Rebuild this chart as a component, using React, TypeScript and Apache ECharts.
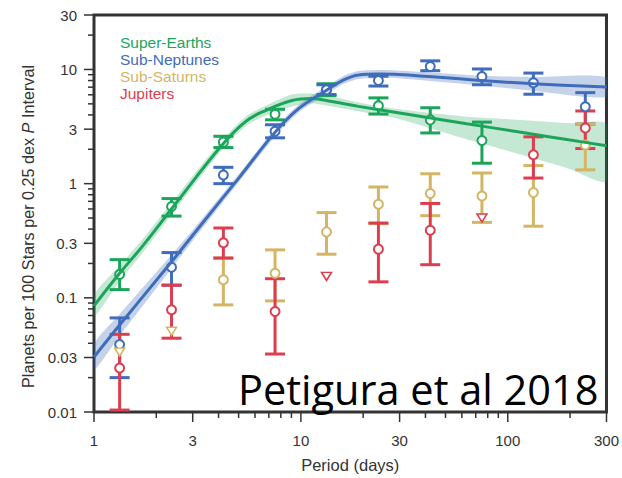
import React, { useEffect, useRef } from "react";
import * as echarts from "echarts";

// ---------- data ----------
const binPeriods = [1.33, 2.37, 4.22, 7.5, 13.3, 23.7, 42.2, 75, 133, 237];

const superEarthVal = [0.16, 0.63, 2.31, 4.05, 6.6, 4.82, 3.62, 2.39, null, null];
const superEarthLo = [0.118, 0.52, 2.07, 3.62, 5.9, 4.07, 2.78, 1.51, null, null];
const superEarthHi = [0.216, 0.74, 2.6, 4.48, 7.5, 5.64, 4.62, 3.46, null, null];

const subNeptuneVal = [0.039, 0.185, 1.19, 2.88, 6.65, 8.0, 10.6, 8.66, 7.64, 4.72];
const subNeptuneLo = [0.02, 0.129, 1.0, 2.52, 6.03, 7.16, 9.76, 7.35, 6.07, 3.33];
const subNeptuneHi = [0.0667, 0.249, 1.39, 3.28, 7.35, 8.73, 11.9, 10.1, 9.3, 6.27];

const subSaturnVal = [null, null, 0.144, 0.164, 0.378, 0.66, 0.82, 0.78, 0.835, 2.18];
const subSaturnLo = [null, null, 0.0867, 0.094, 0.241, 0.447, 0.524, 0.458, 0.424, 1.32];
const subSaturnHi = [null, null, 0.223, 0.263, 0.558, 0.935, 1.22, 1.24, 1.44, 3.33];
const subSaturnUpper = [0.0335, 0.051, null, null, null, null, null, null, null, null];

const jupiterVal = [0.0243, 0.0786, 0.304, 0.0759, null, 0.267, 0.391, null, 1.79, 3.07];
const jupiterLo = [0.0104, 0.0443, 0.223, 0.0322, null, 0.138, 0.195, null, 1.12, 2.03];
const jupiterHi = [0.0479, 0.129, 0.409, 0.147, null, 0.452, 0.671, null, 2.57, 4.33];
const jupiterUpper = [null, null, null, null, 0.154, null, null, 0.5, null, null];

// fitted occurrence curves with confidence bands
const superEarthFitP = [1, 1.33, 1.72, 2.5, 4.17, 5.44, 6.79, 9.05, 11.3, 14.1, 19, 30, 60, 120, 200, 300];
const superEarthFit = [0.0851, 0.164, 0.285, 0.681, 2.19, 3.53, 4.39, 5.35, 5.57, 5.24, 4.75, 4.15, 3.4, 2.79, 2.41, 2.15];
const superEarthFitHi = [0.106, 0.192, 0.327, 0.767, 2.42, 3.9, 4.84, 6.03, 6.15, 5.79, 5.14, 4.48, 3.9, 3.6, 3.39, 3.32];
const superEarthFitLo = [0.0684, 0.14, 0.248, 0.605, 1.99, 3.2, 3.97, 4.75, 5.04, 4.75, 4.3, 3.67, 2.52, 1.76, 1.34, 1.05];

const subNeptuneFitP = [1, 1.33, 2.37, 3.34, 5.03, 7.6, 9.78, 13.2, 16.1, 19, 23.7, 29.5, 74, 133, 300];
const subNeptuneFit = [0.0303, 0.0578, 0.207, 0.45, 1.13, 2.9, 4.56, 6.52, 8.11, 8.96, 9.13, 9.05, 8.0, 7.49, 7.02];
const subNeptuneFitHi = [0.0393, 0.0719, 0.238, 0.496, 1.22, 3.13, 4.94, 7.06, 8.78, 9.69, 9.89, 9.79, 8.83, 8.61, 8.56];
const subNeptuneFitLo = [0.0234, 0.0465, 0.181, 0.407, 1.04, 2.67, 4.22, 6.03, 7.49, 8.27, 8.44, 8.36, 7.24, 6.52, 5.75];

// axes
const xMajorTicks = [1, 3, 10, 30, 100, 300];
const xMajorLabels = ["1", "3", "10", "30", "100", "300"];
const xMinorTicks = [2, 4, 5, 6, 7, 8, 9, 20, 40, 50, 60, 70, 80, 90, 200];
const yMajorTicks = [0.01, 0.03, 0.1, 0.3, 1, 3, 10, 30];
const yMajorLabels = ["0.01", "0.03", "0.1", "0.3", "1", "3", "10", "30"];
const yMinorTicks = [
  0.02, 0.04, 0.05, 0.06, 0.07, 0.08, 0.09,
  0.2, 0.4, 0.5, 0.6, 0.7, 0.8, 0.9,
  2, 4, 5, 6, 7, 8, 9, 20,
];

const groupNames = ["Super-Earths", "Sub-Neptunes", "Sub-Saturns", "Jupiters"];
const groupColors = ["#1ca55a", "#3f6cbb", "#d4b564", "#dc3d4f"];

// ---------- helpers ----------
const L = (v: number) => Math.log10(v);
const FONT = "Liberation Sans, Arial, Helvetica, sans-serif";
const X_MIN = L(1);
const X_MAX = L(300);
const Y_MIN = L(0.01);
const Y_MAX = L(30);
const TICK_COLOR = "#333";

const labelFormatter = (ticks: number[], labels: string[]) => (v: number) => {
  let best = 0;
  ticks.forEach((t, i) => {
    if (Math.abs(L(t) - v) < Math.abs(L(ticks[best]) - v)) best = i;
  });
  return labels[best];
};

function points(vals: (number | null)[]) {
  const out: number[][] = [];
  binPeriods.forEach((p, i) => {
    const v = vals[i];
    if (v != null) out.push([L(p), L(v)]);
  });
  return out;
}
function bars(lo: (number | null)[], hi: (number | null)[]) {
  const out: number[][] = [];
  binPeriods.forEach((p, i) => {
    const a = lo[i];
    const b = hi[i];
    if (a != null && b != null) out.push([L(p), L(a), L(b)]);
  });
  return out;
}

function errorBarSeries(lo: (number | null)[], hi: (number | null)[], color: string) {
  return {
    type: "custom",
    data: bars(lo, hi),
    encode: { x: 0, y: [1, 2] },
    renderItem: (_params: any, api: any) => {
      const x = api.value(0);
      const a = api.coord([x, api.value(1)]);
      const b = api.coord([x, api.value(2)]);
      const w = 10;
      const st = { stroke: color, lineWidth: 3 };
      return {
        type: "group",
        children: [
          { type: "line", shape: { x1: a[0], y1: a[1], x2: b[0], y2: b[1] }, style: st },
          { type: "line", shape: { x1: a[0] - w, y1: a[1], x2: a[0] + w, y2: a[1] }, style: st },
          { type: "line", shape: { x1: b[0] - w, y1: b[1], x2: b[0] + w, y2: b[1] }, style: st },
        ],
      };
    },
  };
}

function pointSeries(name: string, vals: (number | null)[], color: string) {
  return {
    name,
    type: "scatter",
    data: points(vals),
    symbol: "circle",
    symbolSize: 9,
    itemStyle: { color: "#fff", borderColor: color, borderWidth: 2, opacity: 1 },
  };
}

function limitSeries(name: string, vals: (number | null)[], color: string) {
  return {
    name,
    type: "scatter",
    data: points(vals),
    symbol: "triangle",
    symbolRotate: 180,
    symbolSize: [10, 8],
    itemStyle: { color: "#fff", borderColor: color, borderWidth: 1.5, opacity: 1 },
  };
}

function bandSeries(ps: number[], lo: number[], hi: number[], color: string) {
  const data = ps.map((p, i) => [L(p), L(lo[i]), L(hi[i])]);
  return {
    type: "custom",
    data,
    encode: { x: 0, y: [1, 2] },
    clip: true,
    silent: true,
    renderItem: (params: any, api: any) => {
      if (params.dataIndex !== 0) return null;
      const upper = data.map((d) => api.coord([d[0], d[2]]));
      const lower = data.map((d) => api.coord([d[0], d[1]])).reverse();
      return {
        type: "polygon",
        shape: { points: upper.concat(lower), smooth: 0.25 },
        style: { fill: color },
      };
    },
  };
}

function fitSeries(ps: number[], vals: number[], color: string) {
  return {
    type: "line",
    data: ps.map((p, i) => [L(p), L(vals[i])]),
    smooth: 0.4,
    showSymbol: false,
    symbol: "none",
    lineStyle: { color, width: 3 },
    silent: true,
  };
}

function baseGraphics() {
  return [
    ...groupNames.map((n, i) => ({
      type: "text",
      id: "legend" + i,
      x: 120,
      y: 42 + i * 17,
      style: {
        text: n,
        fill: groupColors[i],
        font: `15.5px ${FONT}`,
        verticalAlign: "middle",
        align: "left",
      },
    })),
    {
      type: "text",
      id: "credit",
      x: 238,
      y: 389,
      style: {
        text: "Petigura et al 2018",
        fill: "#000",
        font: `41.5px "Open Sans", sans-serif`,
        verticalAlign: "middle",
        align: "left",
      },
      z: 100,
    },
  ];
}

// log-axis ticks (major and minor), placed with the chart's own axis scales
function tickGraphics(chart: any) {
  const out: any[] = [];
  const addX = (vals: number[], len: number, tag: string) =>
    vals.forEach((v, i) => {
      const c = chart.convertToPixel({ gridIndex: 0 }, [L(v), Y_MIN]);
      if (!c) return;
      out.push({
        type: "line",
        id: tag + i,
        shape: { x1: c[0], y1: c[1] + 1, x2: c[0], y2: c[1] + len },
        style: { stroke: TICK_COLOR, lineWidth: 1.5 },
        z: 50,
      });
    });
  const addY = (vals: number[], len: number, tag: string) =>
    vals.forEach((v, i) => {
      const c = chart.convertToPixel({ gridIndex: 0 }, [X_MIN, L(v)]);
      if (!c) return;
      out.push({
        type: "line",
        id: tag + i,
        shape: { x1: c[0] - len, y1: c[1], x2: c[0] - 1, y2: c[1] },
        style: { stroke: TICK_COLOR, lineWidth: 1.5 },
        z: 50,
      });
    });
  addX(xMajorTicks, 10, "xM");
  addX(xMinorTicks, 6, "xm");
  addY(yMajorTicks, 10, "yM");
  addY(yMinorTicks, 6, "ym");
  return out;
}

function buildOption() {
  return {
    animation: false,
    grid: {
      left: 94,
      right: 13,
      top: 15,
      bottom: 59,
      show: true,
      borderColor: "#333",
      borderWidth: 3,
      backgroundColor: "transparent",
    },
    xAxis: {
      type: "value",
      min: X_MIN,
      max: X_MAX,
      position: "bottom",
      axisLine: { show: false, onZero: false },
      splitLine: { show: false },
      axisTick: { show: false },
      axisLabel: {
        customValues: xMajorTicks.map(L),
        formatter: labelFormatter(xMajorTicks, xMajorLabels),
        margin: 21,
        fontSize: 15,
        fontFamily: FONT,
        color: "#333",
      },
      name: "Period (days)",
      nameLocation: "middle",
      nameGap: 44,
      nameTextStyle: { fontSize: 16.5, fontFamily: FONT, color: "#333" },
    },
    yAxis: {
      type: "value",
      min: Y_MIN,
      max: Y_MAX,
      position: "left",
      axisLine: { show: false, onZero: false },
      splitLine: { show: false },
      axisTick: { show: false },
      axisLabel: {
        customValues: yMajorTicks.map(L),
        formatter: labelFormatter(yMajorTicks, yMajorLabels),
        margin: 17,
        fontSize: 15,
        fontFamily: FONT,
        color: "#333",
      },
      name: "Planets per 100 Stars per 0.25 dex {it|P} Interval",
      nameLocation: "middle",
      nameGap: 58,
      nameTextStyle: {
        fontSize: 16.2,
        fontFamily: FONT,
        color: "#333",
        padding: [0, 26, 0, 0],
        rich: {
          it: { fontStyle: "italic", fontSize: 16.2, fontFamily: FONT, color: "#333" },
        },
      },
    },
    graphic: baseGraphics(),
    series: [
      bandSeries(superEarthFitP, superEarthFitLo, superEarthFitHi, "rgba(28,165,90,0.26)"),
      bandSeries(subNeptuneFitP, subNeptuneFitLo, subNeptuneFitHi, "rgba(63,108,187,0.3)"),
      fitSeries(superEarthFitP, superEarthFit, groupColors[0]),
      fitSeries(subNeptuneFitP, subNeptuneFit, groupColors[1]),
      errorBarSeries(superEarthLo, superEarthHi, groupColors[0]),
      pointSeries(groupNames[0], superEarthVal, groupColors[0]),
      errorBarSeries(subNeptuneLo, subNeptuneHi, groupColors[1]),
      pointSeries(groupNames[1], subNeptuneVal, groupColors[1]),
      errorBarSeries(subSaturnLo, subSaturnHi, groupColors[2]),
      pointSeries(groupNames[2], subSaturnVal, groupColors[2]),
      limitSeries(groupNames[2], subSaturnUpper, groupColors[2]),
      errorBarSeries(jupiterLo, jupiterHi, groupColors[3]),
      pointSeries(groupNames[3], jupiterVal, groupColors[3]),
      limitSeries(groupNames[3], jupiterUpper, groupColors[3]),
    ],
  };
}

export default function App() {
  const ref = useRef<HTMLDivElement>(null);
  useEffect(() => {
    document.body.style.margin = "0";
    if (!ref.current) return;
    const chart = echarts.init(ref.current, undefined, { renderer: "svg" });
    chart.setOption(buildOption() as any);
    chart.setOption({ graphic: [...baseGraphics(), ...tickGraphics(chart)] } as any);
    return () => chart.dispose();
  }, []);
  return <div ref={ref} style={{ width: 622, height: 478 }} />;
}
